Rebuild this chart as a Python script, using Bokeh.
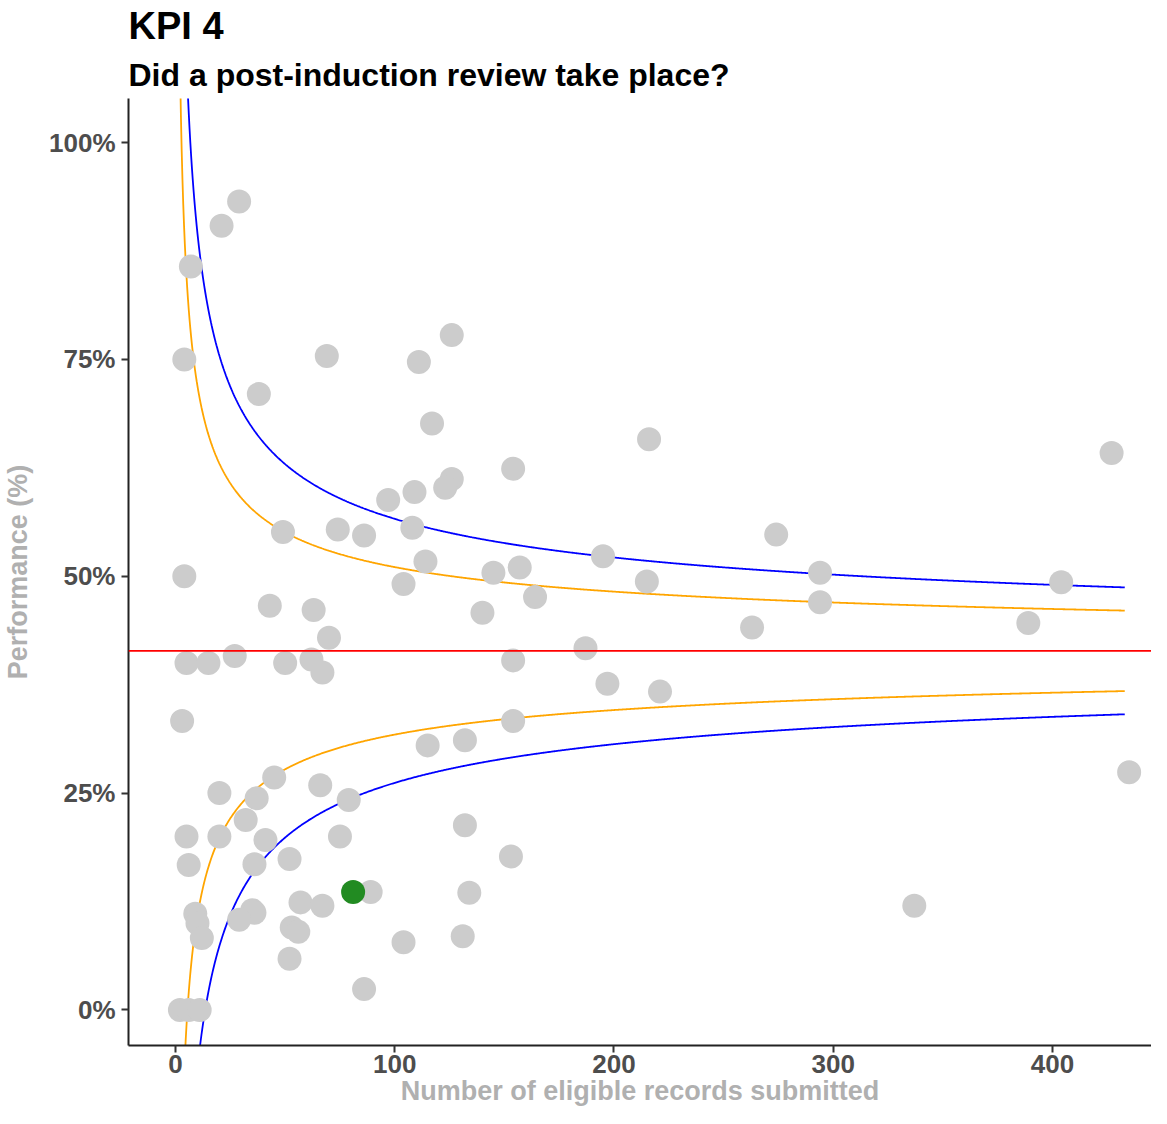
import numpy as np
from bokeh.plotting import figure
from bokeh.models import Range1d, FixedTicker, NumeralTickFormatter, Title, Span
from bokeh.embed import file_html
from bokeh.resources import INLINE

# ---- data ----
records = [29, 21, 7, 4, 69, 38, 126, 111, 117, 154, 126, 123, 109, 97, 108, 49, 74, 86,
           114, 145, 157, 104, 4, 43, 63, 140, 164, 70, 27, 5, 15, 50, 62, 67, 154, 3,
           154, 115, 132, 45, 20, 66, 37, 79, 32, 5, 20, 41, 75, 132, 6, 36, 52, 153,
           89, 134, 57, 67, 9, 10, 12, 35, 36, 29, 53, 56, 52, 104, 131, 86, 2, 6, 11,
           216, 427, 274, 195, 294, 404, 215, 294, 263, 389, 187, 197, 221, 435, 337]
performance = [93.2, 90.4, 85.7, 75.0, 75.4, 71.0, 77.8, 74.7, 67.6, 62.4, 61.2, 60.2, 59.7,
               58.8, 55.6, 55.1, 55.4, 54.7, 51.7, 50.4, 51.0, 49.1, 50.0, 46.6, 46.1, 45.8,
               47.6, 42.9, 40.8, 40.0, 40.0, 40.0, 40.4, 38.9, 40.3, 33.3, 33.3, 30.5, 31.1,
               26.8, 25.0, 25.9, 24.4, 24.2, 21.9, 20.0, 20.0, 19.6, 20.0, 21.3, 16.7, 16.8,
               17.4, 17.7, 13.6, 13.5, 12.4, 12.0, 11.1, 10.0, 8.3, 11.5, 11.2, 10.4, 9.5,
               9.0, 5.9, 7.8, 8.5, 2.4, 0.0, 0.0, 0.0, 65.8, 64.2, 54.8, 52.3, 50.4, 49.3,
               49.4, 47.0, 44.1, 44.6, 41.7, 37.6, 36.7, 27.4, 12.0]
highlight_records = [81]
highlight_performance = [13.6]
overall_mean = 0.414
z_95 = 1.96
z_998 = 3.09
limit_max_n = 433
x_ticks = [0, 100, 200, 300, 400]
y_ticks = [0, 0.25, 0.5, 0.75, 1.0]

# ---- derived ----
perf = np.array(performance) / 100.0
hperf = np.array(highlight_performance) / 100.0
n_seq = np.linspace(1, limit_max_n, 1200)
se = np.sqrt(overall_mean * (1 - overall_mean) / n_seq)
up95, lo95 = overall_mean + z_95 * se, overall_mean - z_95 * se
up998, lo998 = overall_mean + z_998 * se, overall_mean - z_998 * se

FONT = "Liberation Sans"

p = figure(width=1151, height=1108, output_backend="svg", toolbar_location=None,
           x_range=Range1d(-21.46, 445.2), y_range=Range1d(-0.041, 1.0508),
           title="KPI 4",
           min_border_left=0, min_border_right=0, min_border_top=0, min_border_bottom=0)
p.title.text_font = FONT
p.title.text_font_size = "38px"
p.title.text_font_style = "bold"
p.title.text_color = "black"
p.title.align = "left"
p.title.standoff = 4
p.add_layout(Title(text="Did a post-induction review take place?", text_font=FONT,
                   text_font_size="32px", text_font_style="bold", text_color="black",
                   align="left", standoff=12), "above")

p.xgrid.visible = False
p.ygrid.visible = False
p.outline_line_color = None
p.background_fill_color = "white"
p.border_fill_color = "white"

for ax in (p.xaxis[0], p.yaxis[0]):
    ax.axis_line_color = "#222222"
    ax.axis_line_width = 2
    ax.major_tick_line_color = "#333333"
    ax.major_tick_line_width = 2
    ax.major_tick_out = 7
    ax.major_tick_in = 0
    ax.minor_tick_line_color = None
    ax.major_label_text_font = FONT
    ax.major_label_text_font_style = "bold"
    ax.major_label_text_font_size = "26px"
    ax.major_label_text_color = "#4D4D4D"
    ax.axis_label_text_font = FONT
    ax.axis_label_text_font_style = "bold"
    ax.axis_label_text_font_size = "27px"
    ax.axis_label_text_color = "#B0B0B0"

p.xaxis.axis_label = "Number of eligible records submitted"
p.yaxis.axis_label = "Performance (%)"
p.xaxis.ticker = FixedTicker(ticks=x_ticks)
p.yaxis.ticker = FixedTicker(ticks=y_ticks)
p.yaxis.formatter = NumeralTickFormatter(format="0%")
p.xaxis.major_label_standoff = 2
p.xaxis.axis_label_standoff = 0
p.yaxis.major_label_standoff = 6
p.yaxis.axis_label_standoff = 13

p.add_layout(Span(location=overall_mean, dimension="width", line_color="red", line_width=1.8))
p.line(n_seq, up95, line_color="orange", line_width=1.8)
p.line(n_seq, lo95, line_color="orange", line_width=1.8)
p.line(n_seq, up998, line_color="blue", line_width=1.8)
p.line(n_seq, lo998, line_color="blue", line_width=1.8)

p.scatter(records, perf, size=24, fill_color="#CCCCCC", line_color=None)
p.scatter(highlight_records, hperf, size=24, fill_color="#228B22", line_color=None)

open("out.html", "w").write(file_html(p, INLINE))
